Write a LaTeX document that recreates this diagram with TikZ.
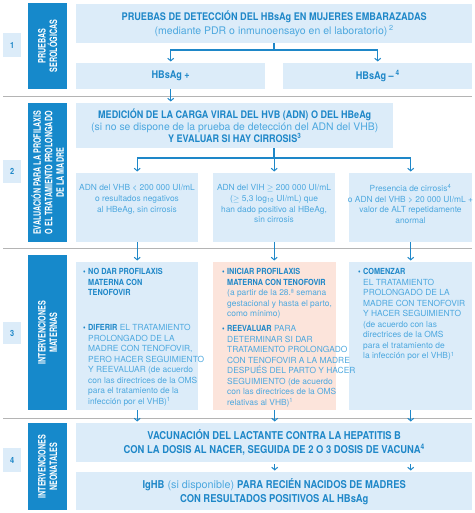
\documentclass[tikz,border=0pt]{standalone}
\usepackage{fontspec}
\setmainfont{TeX Gyre Heros}[BoldFeatures={FakeStretch=0.87}]
\newfontfamily\labfont{TeX Gyre Heros}[BoldFeatures={FakeStretch=0.70}]
\usetikzlibrary{arrows.meta}
\definecolor{lb}{HTML}{DCECF9}
\definecolor{db}{HTML}{1689CB}
\definecolor{tb}{HTML}{1E87C8}
\definecolor{tl}{HTML}{4DA8DF}
\definecolor{pk}{HTML}{FCE4DB}
\definecolor{sg}{HTML}{B4B4B4}
\newcommand\txb[1]{{\bfseries\color{tb}#1}}
\newcommand\txl[1]{{\color{tl}#1}}
\newcommand\bul{\leavevmode\llap{\txb{•}\hspace{2.5pt}}}
\begin{document}
\begin{tikzpicture}[x=1pt,y=-1pt,
  box/.style={fill=lb, draw=none, inner sep=0pt, anchor=north west, align=center},
  pbox/.style={box, fill=pk},
  lab/.style={fill=db, draw=none, inner sep=0pt, anchor=north west},
  labt/.style={text=white, font=\labfont\bfseries\fontsize{10.2}{11.4}\selectfont, align=center, rotate=90, inner sep=0pt},
  num/.style={fill=lb, draw=none, inner sep=0pt, anchor=north west, text=tb, font=\bfseries\fontsize{8.5}{9}\selectfont},
  big/.style={font=\fontsize{10.5}{14}\selectfont},
  sml/.style={font=\fontsize{8.4}{10.6}\selectfont, inner sep=0pt, text=tl},
  bl/.style={font=\fontsize{8.4}{10.5}\selectfont, inner sep=0pt, text=tl, align=left, anchor=north west},
  ln/.style={draw=tb, line width=1.1pt},
  arr/.style={ln, -{Straight Barb[length=2.6pt,width=6pt,line width=1pt]}, shorten >=1.5pt},
  sep/.style={draw=sg, line width=0.6pt}]
\useasboundingbox (0,0) rectangle (474,513);
% separators
\coordinate (s1a) at (3,96);  \coordinate (s1b) at (472,96);
\coordinate (s2a) at (3,248); \coordinate (s2b) at (472,248);
\coordinate (s3a) at (3,418); \coordinate (s3b) at (472,418);
\draw[sep] (s1a) -- (s1b);
\draw[sep] (s2a) -- (s2b);
\draw[sep] (s3a) -- (s3b);
% number boxes
\node[num, minimum width=18, minimum height=24] (n1) at (3,33) {1};
\node[num, minimum width=18, minimum height=23] (n2) at (3,160) {2};
\node[num, minimum width=18, minimum height=22] (n3) at (3,322) {3};
\node[num, minimum width=18, minimum height=24] (n4) at (3,448) {4};
% section labels
\node[lab, minimum width=39, minimum height=86] (l1) at (28,3) {};
\node[labt] (l1t) at (l1.center) {PRUEBAS\\SEROLÓGICAS};
\node[lab, minimum width=39, minimum height=139] (l2) at (28,103) {};
\node[labt] (l2t) at (l2.center) {EVALUACIÓN PARA LA PROFILAXIS\\O EL TRATAMIENTO PROLONGADO\\DE LA MADRE};
\node[lab, minimum width=39, minimum height=155] (l3) at (28,255) {};
\node[labt] (l3t) at (l3.center) {INTERVENCIONES\\MATERNAS};
\node[lab, minimum width=39, minimum height=87] (l4) at (28,423) {};
\node[labt] (l4t) at (l4.center) {INTERVENCIONES\\NEONATALES};
% level 1
\node[box, big, minimum width=396, minimum height=39] (t1) at (76,4)
  {\txb{PRUEBAS DE DETECCIÓN DEL HBsAg EN MUJERES EMBARAZADAS}\\
   \txl{(mediante PDR o inmunoensayo en el laboratorio)\,\textsuperscript{2}}};
\node[box, big, minimum width=189, minimum height=26] (hp) at (76,63) {\txb{HBsAg +}};
\node[box, big, minimum width=189, minimum height=26] (hn) at (283,63) {\txb{HBsAg –\,\textsuperscript{4}}};
\coordinate (j1) at (274,50);
\draw[ln] (t1.south -| j1) -- (j1);
\draw[arr] (j1) -| (hp.north);
\draw[arr] (j1) -| (hn.north);
% level 2
\node[box, font=\fontsize{10.4}{11.6}\selectfont, minimum width=317, minimum height=45] (med) at (76,103)
  {\txb{MEDICIÓN DE LA CARGA VIRAL DEL HVB (ADN) O DEL HBeAg}\\
   \txl{(si no se dispone de la prueba de detección del ADN del VHB)}\\
   \txb{Y EVALUAR SI HAY CIRROSIS\textsuperscript{3}}};
\draw[arr] (hp.south) -- (hp.south |- med.north);
\node[box, minimum width=122, minimum height=69] (a2) at (76,173) {};
\node[box, minimum width=122, minimum height=69] (b2) at (213,173) {};
\node[box, minimum width=123, minimum height=69] (c2) at (349,173) {};
\node[sml, align=center, anchor=north] (a2t) at (137,184.5)
  {ADN del VHB < 200 000 UI/mL\\o resultados negativos\\al HBeAg, sin cirrosis};
\node[sml, align=center, anchor=north] (b2t) at (274,184.5)
  {ADN del VIH $\geq$ 200 000 UI/mL\\($\geq$ 5,3 log\textsubscript{10} UI/mL) que\\han dado positivo al HBeAg,\\sin cirrosis};
\node[sml, align=center, anchor=north] (c2t) at (410.5,184.5)
  {Presencia de cirrosis\textsuperscript{4}\\o ADN del VHB > 20 000 UI/mL +\\valor de ALT repetidamente\\anormal};
\coordinate (j2) at (274,158);
\draw[ln] (j2 |- med.south) -- (j2);
\draw[arr] (j2) -| (a2.north);
\draw[arr] (j2) -| (b2.north);
\draw[arr] (j2) -| (c2.north);
% level 3
\node[box, minimum width=122, minimum height=148] (a3) at (76,262) {};
\node[pbox, minimum width=123, minimum height=148] (b3) at (213,262) {};
\node[box, minimum width=123, minimum height=148] (c3) at (349,262) {};
\draw[arr] (a2.south) -- (a3.north);
\draw[arr] (b2.south) -- (b2.south |- b3.north);
\draw[arr] (c2.south) -- (c2.south |- c3.north);
\node[bl] (a3t1) at (88,268.5)
  {\bul\txb{NO DAR PROFILAXIS}\\\txb{MATERNA CON}\\\txb{TENOFOVIR}};
\node[bl] (a3t2) at (88,324.5)
  {\bul\txb{DIFERIR} EL TRATAMIENTO\\PROLONGADO DE LA\\MADRE CON TENOFOVIR,\\PERO HACER SEGUIMIENTO\\Y REEVALUAR (de acuerdo\\con las directrices de la OMS\\para el tratamiento de la\\infección por el VHB)\textsuperscript{1}};
\node[bl] (b3t1) at (227,268.5)
  {\bul\txb{INICIAR PROFILAXIS}\\\txb{MATERNA CON TENOFOVIR}\\(a partir de la 28.ª semana\\ gestacional y hasta el parto,\\como mínimo)};
\node[bl] (b3t2) at (227,325.5)
  {\bul\txb{REEVALUAR} PARA\\DETERMINAR SI DAR\\TRATAMIENTO PROLONGADO\\CON TENOFOVIR A LA MADRE\\DESPUÉS DEL PARTO Y HACER\\SEGUIMIENTO (de acuerdo\\con las directrices de la OMS\\relativas al VHB)\textsuperscript{1}};
\node[bl] (c3t) at (363,268.5)
  {\bul\txb{COMENZAR}\\EL TRATAMIENTO\\PROLONGADO DE LA\\MADRE CON TENOFOVIR\\Y HACER SEGUIMIENTO\\(de acuerdo con las\\directrices de la OMS\\para el tratamiento de\\la infección por el VHB)\textsuperscript{1}};
% level 4
\node[box, font=\fontsize{10.8}{14}\selectfont, minimum width=396, minimum height=39] (vac) at (76,423)
  {\txb{VACUNACIÓN DEL LACTANTE CONTRA LA HEPATITIS B}\\
   \txb{CON LA DOSIS AL NACER, SEGUIDA DE 2 O 3 DOSIS DE VACUNA\textsuperscript{4}}};
\node[box, font=\fontsize{10.8}{14}\selectfont, minimum width=396, minimum height=38] (ig) at (76,472)
  {\txb{IgHB} \txl{(si disponible)} \txb{PARA RECIÉN NACIDOS DE MADRES}\\
   \txb{CON RESULTADOS POSITIVOS AL HBsAg}};
\draw[arr] (a3.south) -- (a3.south |- vac.north);
\draw[arr] (b3.south) -- (b3.south |- vac.north);
\draw[arr] (c3.south) -- (c3.south |- vac.north);
\draw[arr, shorten <=1.5pt] (vac.south -| b3.south) -- (ig.north -| b3.south);
\draw[arr, shorten <=1.5pt] (vac.south -| c3.south) -- (ig.north -| c3.south);
\end{tikzpicture}
\end{document}
